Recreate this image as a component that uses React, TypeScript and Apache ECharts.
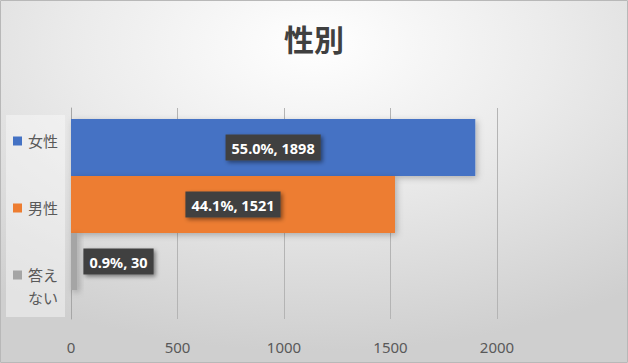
import React, { useEffect, useRef } from "react";
import * as echarts from "echarts";

const categories = ["女性", "男性", "答えない"];
const values = [1898, 1521, 30];
const colors = ["#4472C4", "#ED7D31", "#A5A5A5"];
const xTicks = [0, 500, 1000, 1500, 2000];
const title = "性別";

export default function App() {
  const ref = useRef<HTMLDivElement>(null);
  useEffect(() => {
    document.body.style.margin = "0";
    if (!ref.current) return;
    const chart = echarts.init(ref.current, null, { renderer: "svg" });
    const total = values.reduce((a, b) => a + b, 0);
    const font = "'Noto Sans', 'Noto Sans CJK JP', sans-serif";
    const labelStyle = {
      show: true,
      formatter: (p: any) => ((p.value / total) * 100).toFixed(1) + "%, " + p.value,
      color: "#ffffff",
      fontWeight: "bold",
      fontSize: 14.5,
      fontFamily: font,
      lineHeight: 18,
      backgroundColor: "#404040",
      padding: [4, 6],
      shadowBlur: 4,
      shadowColor: "rgba(0,0,0,0.45)",
      shadowOffsetX: 2,
      shadowOffsetY: 2,
    };
    const series = categories.map((name, i) => ({
      type: "bar",
      name,
      xAxisIndex: 1,
      yAxisIndex: 1,
      data: [values[i]],
      barWidth: 57,
      barGap: "0%",
      itemStyle: {
        color: colors[i],
        shadowBlur: 6,
        shadowColor: "rgba(0,0,0,0.25)",
        shadowOffsetX: 2,
        shadowOffsetY: 2,
      },
      label: {
        ...labelStyle,
        position: i === 2 ? "right" : "inside",
        distance: 6,
      },
    }));
    chart.setOption({
      animation: false,
      title: {
        text: title,
        left: "center",
        top: 19,
        textStyle: { fontSize: 30, fontWeight: "bold", color: "#404040", fontFamily: font },
      },
      graphic: [
        {
          type: "rect",
          z: -10,
          silent: true,
          shape: { x: 0.5, y: 0.5, width: 627, height: 362 },
          style: {
            fill: new echarts.graphic.RadialGradient(0.5, 0.12, 0.85, [
              { offset: 0, color: "#ffffff" },
              { offset: 0.45, color: "#ebebeb" },
              { offset: 1, color: "#cfcfcf" },
            ]),
            stroke: "#b8b8b8",
            lineWidth: 1,
          },
        },
        {
          type: "rect",
          z: -5,
          silent: true,
          shape: { x: 6, y: 115, width: 59, height: 202 },
          style: { fill: "rgba(250,250,250,0.45)" },
        },
        {
          type: "text",
          z: 10,
          left: 28,
          top: 290,
          style: { text: "ない", fontSize: 15, fontFamily: font, fill: "#595959" },
        },
      ],
      legend: {
        orient: "vertical",
        left: 13,
        top: 131,
        padding: 0,
        itemWidth: 9,
        itemHeight: 9,
        itemGap: 47,
        icon: "rect",
        data: categories,
        formatter: (n: string) => (n === "答えない" ? "答え" : n),
        textStyle: { fontSize: 15, lineHeight: 20, color: "#595959", fontFamily: font, padding: [0, 0, 0, 1] },
      },
      grid: [
        { left: 71, right: 131, top: 108, bottom: 44 },
        { left: 71, right: 131, top: 119, bottom: 73 },
      ],
      xAxis: [
        {
          type: "value",
          gridIndex: 0,
          min: xTicks[0],
          max: xTicks[xTicks.length - 1],
          interval: 500,
          axisLine: { show: false },
          axisTick: { show: false },
          splitLine: { lineStyle: { color: "#b4b4b4", width: 1 } },
          axisLabel: {
            fontSize: 15,
            color: "#595959",
            fontFamily: font,
            margin: 20,
            formatter: (v: number) => String(v),
          },
        },
        {
          type: "value",
          gridIndex: 1,
          min: xTicks[0],
          max: xTicks[xTicks.length - 1],
          show: false,
        },
      ],
      yAxis: [
        {
          type: "category",
          gridIndex: 0,
          data: [""],
          axisLine: { show: true, lineStyle: { color: "#a6a6a6", width: 1 } },
          axisTick: { show: false },
          axisLabel: { show: false },
        },
        {
          type: "category",
          gridIndex: 1,
          data: [title],
          show: false,
        },
      ],
      series,
    });
    return () => chart.dispose();
  }, []);
  return <div ref={ref} style={{ width: 628, height: 363 }} />;
}
